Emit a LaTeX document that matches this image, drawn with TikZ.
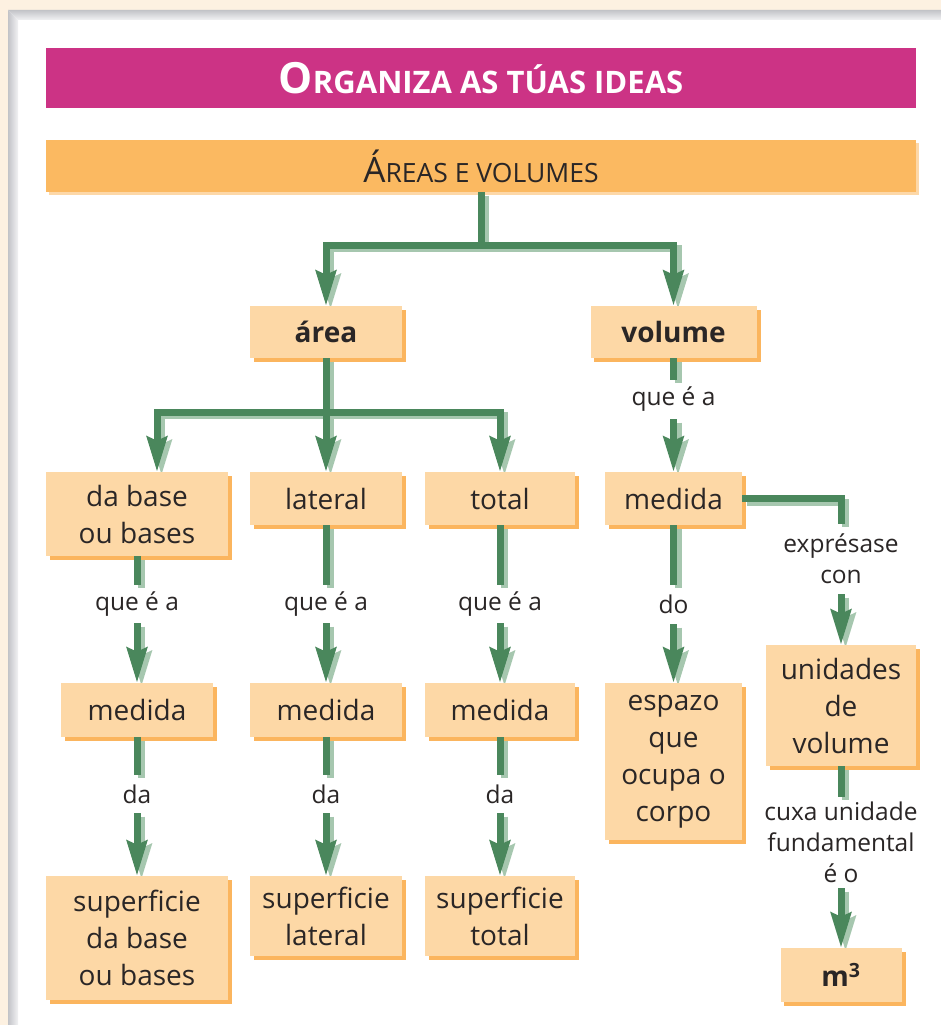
\documentclass[tikz,border=0pt]{standalone}
\usepackage{fontspec}
\setmainfont{Open Sans}
\usetikzlibrary{arrows.meta}
\definecolor{cream}{HTML}{FDF1E1}
\definecolor{magbar}{HTML}{CC3385}
\definecolor{hdrfill}{HTML}{FBB961}
\definecolor{hdrshadow}{HTML}{FDD8A8}
\definecolor{boxfill}{HTML}{FDD8A6}
\definecolor{boxshadow}{HTML}{FBB55E}
\definecolor{conngreen}{HTML}{4A875C}
\definecolor{connshadow}{HTML}{A6C7AF}
\definecolor{txt}{HTML}{2A2626}
\definecolor{bevdark}{HTML}{C2C3C7}
\definecolor{bevlight}{HTML}{F2F2F4}
\pgfdeclarelayer{bg}
\pgfdeclarelayer{bshadow}
\pgfdeclarelayer{conn}
\pgfsetlayers{bg,bshadow,conn,main}
\newcommand\boxfont{\fontsize{28}{37}\selectfont}
\newcommand\labfont{\fontsize{24.5}{31}\selectfont}
\tikzset{
  bx/.style={fill=boxfill, inner sep=0pt, align=center, text=txt, font=\boxfont},
  lab/.style={inner sep=0pt, align=center, text=txt, font=\labfont},
  tip/.style={-{Stealth[length=35pt,width=20pt,inset=4pt]}},
  mainconn/.style={draw=conngreen, line width=7pt, line join=miter},
  shadconn/.style={draw=connshadow, line width=7pt, line join=miter, transform canvas={xshift=4.5pt,yshift=-3.5pt}}
}
\newcommand\allconns[1]{%
  \draw[#1,tip] (hdr.south) -- (j1) -| (area.north);
  \draw[#1,tip] (j1) -| (vol.north);
  \draw[#1,tip] (area.south) -- (j2) -| (dabin);
  \draw[#1,tip] (j2) -- (lat.north);
  \draw[#1,tip] (j2) -| (tot.north);
  \draw[#1] (dab.south) -- (l1.north);
  \draw[#1,tip] (l1.south) -- (med1.north);
  \draw[#1] (lat.south) -- (l2.north);
  \draw[#1,tip] (l2.south) -- (med2.north);
  \draw[#1] (tot.south) -- (l3.north);
  \draw[#1,tip] (l3.south) -- (med3.north);
  \draw[#1] (med1.south) -- (ld1.north);
  \draw[#1,tip] (ld1.south) -- (sup1.north);
  \draw[#1] (med2.south) -- (ld2.north);
  \draw[#1,tip] (ld2.south) -- (sup2.north);
  \draw[#1] (med3.south) -- (ld3.north);
  \draw[#1,tip] (ld3.south) -- (sup3.north);
  \draw[#1] (vol.south) -- (lv.north);
  \draw[#1,tip] (lv.south) -- (medv.north);
  \draw[#1] (medv.south) -- (ldo.north);
  \draw[#1,tip] (ldo.south) -- (esp.north);
  \draw[#1] (medv.east) -| (lexp.north);
  \draw[#1,tip] (lexp.south) -- (unid.north);
  \draw[#1] (unid.south) -- (lcux.north);
  \draw[#1,tip] (lcux.south) -- (m3.north);
}
\begin{document}
\begin{tikzpicture}[x=1pt,y=-1pt]
\useasboundingbox (0,0) rectangle (941,1025);
% background and frame
\begin{pgfonlayer}{bg}
\fill[cream] (0,0) rectangle (941,1025);
\fill[white] (8,10) rectangle (941,1025);
\shade[left color=bevdark, right color=bevlight] (8,10) -- (18,20) -- (18,1025) -- (8,1025) -- cycle;
\shade[top color=bevdark, bottom color=bevlight] (8,10) -- (941,10) -- (941,20) -- (18,20) -- cycle;
\end{pgfonlayer}

% title and header
\node[fill=magbar, minimum width=870pt, minimum height=60pt, inner sep=0pt, text=white, font=\bfseries] (title) at (481,78)
  {\fontsize{43}{43}\selectfont O\fontsize{31}{31}\selectfont RGANIZA AS TÚAS IDEAS};
\node[fill=hdrfill, minimum width=870pt, minimum height=52pt, inner sep=0pt, text=txt] (hdr) at (481,166)
  {\fontsize{35}{35}\selectfont Á\fontsize{26.5}{26.5}\selectfont REAS E VOLUMES};

% boxes
\node[bx, minimum width=152pt, minimum height=52pt, font=\boxfont\bfseries] (area) at (326,332) {área};
\node[bx, minimum width=166pt, minimum height=52pt, font=\boxfont\bfseries] (vol) at (673.5,332) {volume};
\node[bx, minimum width=182pt, minimum height=84pt] (dab) at (137,514) {da base\\ou bases};
\node[bx, minimum width=152pt, minimum height=53pt] (lat) at (326,498.5) {lateral};
\node[bx, minimum width=150pt, minimum height=53pt] (tot) at (500,498.5) {total};
\node[bx, minimum width=137pt, minimum height=53pt] (medv) at (673.5,498.5) {medida};
\node[bx, minimum width=152pt, minimum height=54pt] (med1) at (137,710) {medida};
\node[bx, minimum width=152pt, minimum height=54pt] (med2) at (326,710) {medida};
\node[bx, minimum width=150pt, minimum height=54pt] (med3) at (500,710) {medida};
\node[bx, minimum width=137pt, minimum height=157pt] (esp) at (673.5,761.5) {espazo\\que\\ocupa o\\corpo};
\node[bx, minimum width=150pt, minimum height=121pt] (unid) at (841,705.5) {unidades\\de\\volume};
\node[bx, minimum width=182pt, minimum height=124pt] (sup1) at (137,938) {superficie\\da base\\ou bases};
\node[bx, minimum width=152pt, minimum height=80pt] (sup2) at (326,916) {superficie\\lateral};
\node[bx, minimum width=150pt, minimum height=80pt] (sup3) at (500,916) {superficie\\total};
\node[bx, minimum width=121pt, minimum height=54pt, font=\boxfont\bfseries] (m3) at (841,975) {m\textsuperscript{3}};

% connector labels
\node[lab, minimum height=38pt] (l1) at (137,604) {que é a};
\node[lab, minimum height=38pt] (l2) at (326,604) {que é a};
\node[lab, minimum height=38pt] (l3) at (500,604) {que é a};
\node[lab, minimum height=39pt] (lv) at (673.5,399.5) {que é a};
\node[lab, minimum height=39pt] (ldo) at (673.5,604.5) {do};
\node[lab, minimum height=70pt] (lexp) at (841,559) {exprésase\\con};
\node[lab, minimum height=38pt] (ld1) at (137,794) {da};
\node[lab, minimum height=38pt] (ld2) at (326,794) {da};
\node[lab, minimum height=38pt] (ld3) at (500,794) {da};
\node[lab, minimum height=91pt] (lcux) at (841,842.5) {cuxa unidade\\fundamental\\é o};

% junctions
\coordinate (j1) at (481,245);
\coordinate (j2) at (326,412);
\coordinate (dabin) at ([xshift=20pt]dab.north);

% shadows of boxes
\begin{pgfonlayer}{bshadow}
  \fill[hdrshadow] ([xshift=3pt,yshift=-3pt]hdr.south west) rectangle ([xshift=3pt,yshift=-3pt]hdr.north east);
  \foreach \n in {area,vol,dab,lat,tot,medv,med1,med2,med3,esp,unid,sup1,sup2,sup3,m3}
    \fill[boxshadow] ([xshift=4pt,yshift=-4pt]\n.south west) rectangle ([xshift=4pt,yshift=-4pt]\n.north east);
\end{pgfonlayer}

% connectors
\begin{pgfonlayer}{conn}
  \allconns{shadconn}
  \allconns{mainconn}
\end{pgfonlayer}
\end{tikzpicture}
\end{document}
